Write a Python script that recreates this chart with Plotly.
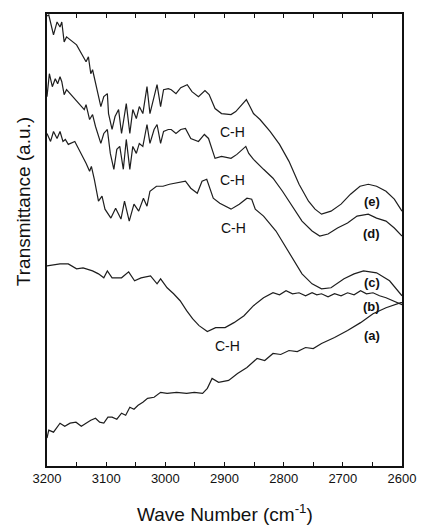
import plotly.graph_objects as go

# Wavenumbers (cm^-1) and transmittance (a.u.) for each spectrum
e_wn = [3200,3197,3189,3183,3178,3175,3171,3167,3150,3139,3134,3130,3126,3123,3118,3112,3109,3104,3098,3096,
        3090,3085,3079,3074,3066,3060,3055,3049,3044,3038,3031,3026,3019,3014,3008,3003,2995,2990,2982,2974,
        2963,2955,2944,2933,2926,2916,2905,2889,2881,2870,2863,2857,2851,2840,2823,2807,2791,2774,2758,2747,
        2736,2720,2703,2687,2671,2657,2643,2627,2613,2600]
e_tr = [452,453,433,446,441,446,426,431,423,411,406,411,394,398,384,368,361,371,374,354,
        338,351,358,334,364,334,358,349,361,354,381,354,371,383,361,378,379,378,374,380,
        383,376,371,377,373,359,354,353,356,363,368,361,354,348,336,323,306,283,266,258,
        253,256,263,273,281,283,281,276,268,256]

d_wn = [3200,3196,3191,3186,3182,3178,3175,3171,3167,3156,3145,3137,3134,3128,3123,3118,3109,3104,3098,3093,
        3087,3082,3077,3071,3066,3060,3055,3049,3044,3038,3031,3026,3019,3014,3008,3003,2995,2990,2982,2974,
        2966,2957,2944,2934,2927,2916,2905,2889,2879,2870,2864,2859,2851,2834,2818,2802,2785,2769,2752,2739,
        2725,2709,2692,2676,2657,2643,2627,2613,2600]
d_tr = [371,394,381,389,384,391,386,373,378,371,364,358,363,348,353,341,324,334,338,314,
        298,318,321,298,328,298,321,314,324,321,343,324,338,343,324,336,338,338,334,338,
        339,329,326,333,329,309,311,309,313,318,321,314,308,298,289,276,261,246,236,231,
        233,239,244,251,253,249,246,239,231]

c_wn = [3200,3194,3189,3183,3178,3173,3169,3164,3153,3142,3134,3128,3125,3120,3113,3107,3102,3092,3084,3075,
        3069,3061,3053,3045,3037,3031,3026,3015,3004,2993,2982,2966,2957,2946,2938,2930,2919,2908,2889,2875,
        2862,2854,2848,2834,2813,2796,2782,2769,2752,2736,2720,2698,2681,2665,2643,2621,2600]
c_tr = [334,326,336,329,336,326,328,323,326,314,304,296,301,288,266,271,258,249,259,248,
        266,246,263,256,269,261,276,281,281,283,284,286,279,274,286,288,269,264,258,263,
        269,268,258,251,236,219,206,193,183,178,179,188,193,196,194,186,171]

b_wn = [3200,3192,3178,3164,3150,3139,3123,3113,3104,3098,3090,3074,3062,3052,3041,3025,3014,3008,2997,2986,
        2975,2964,2954,2943,2929,2915,2899,2884,2867,2851,2834,2818,2807,2796,2785,2774,2763,2752,2744,2736,
        2725,2714,2703,2692,2681,2670,2660,2649,2638,2627,2602,2600]
b_tr = [201,202,203,203,198,199,196,193,189,196,189,189,195,186,189,191,183,188,179,173,
        166,156,148,141,135,139,139,144,151,161,169,174,172,176,173,174,171,174,172,173,
        170,173,171,174,172,176,173,174,171,169,163,162]

a_wn = [3200,3197,3189,3178,3170,3161,3151,3142,3134,3126,3118,3111,3104,3097,3090,3082,3074,3067,3060,3053,
        3046,3038,3030,3019,3008,2997,2981,2964,2951,2937,2929,2921,2910,2893,2878,2862,2845,2832,2818,2805,
        2791,2777,2763,2750,2736,2714,2692,2670,2649,2627,2602,2600]
a_tr = [28,36,34,43,40,43,44,40,43,46,48,44,43,49,49,47,53,51,59,57,
        61,64,68,69,74,73,74,73,74,73,78,88,84,86,93,99,108,106,113,112,
        116,115,119,118,123,129,136,144,153,159,164,164]

spectra = [("a", a_wn, a_tr), ("b", b_wn, b_tr), ("c", c_wn, c_tr), ("d", d_wn, d_tr), ("e", e_wn, e_tr)]

curve_labels = ["(e)", "(d)", "(c)", "(b)", "(a)"]
curve_label_x = [2651, 2651, 2651, 2651, 2651]
curve_label_y = [266, 234, 184, 160, 131]

ch_text = ["C-H", "C-H", "C-H", "C-H"]
ch_x = [2886, 2886, 2885, 2895]
ch_y = [335, 287, 239, 121]

x_ticks = [3200, 3100, 3000, 2900, 2800, 2700, 2600]

fig = go.Figure()
for name, wn, tr in spectra:
    fig.add_trace(go.Scatter(x=wn, y=tr, mode="lines", name=name,
                             line=dict(color="#1e1e1e", width=1.2), showlegend=False,
                             hoverinfo="skip"))

for t, x, y in zip(curve_labels, curve_label_x, curve_label_y):
    fig.add_annotation(x=x, y=y, text="<b>" + t + "</b>", showarrow=False,
                       font=dict(family="Liberation Sans, Arial", size=13, color="#111"))
for t, x, y in zip(ch_text, ch_x, ch_y):
    fig.add_annotation(x=x, y=y, text=t, showarrow=False,
                       font=dict(family="Liberation Sans, Arial", size=14, color="#111"))

fig.add_annotation(xref="paper", yref="paper", x=0.5, y=-0.105, text="Wave Number (cm<sup>-1</sup>)",
                   showarrow=False, yanchor="middle",
                   font=dict(family="Liberation Sans, Arial", size=19, color="#111"))
fig.add_annotation(xref="paper", yref="paper", x=-0.066, y=0.585, text="Transmittance (a.u.)",
                   showarrow=False, textangle=-90, xanchor="center", yanchor="middle",
                   font=dict(family="Liberation Sans, Arial", size=19, color="#111"))

fig.update_layout(
    width=428, height=530,
    margin=dict(l=47, r=15, t=12, b=64),
    paper_bgcolor="white", plot_bgcolor="white",
    xaxis=dict(range=[3200, 2600], tickvals=x_ticks, ticks="inside", ticklen=4, tickwidth=1.2,
               tickcolor="#111", showgrid=False, zeroline=False, showline=True, linecolor="#111",
               linewidth=1.6, mirror="ticks",
               minor=dict(dtick=50, tick0=2600, ticks="inside", ticklen=4, tickcolor="#111", showgrid=False),
               tickfont=dict(family="Liberation Sans, Arial", size=13, color="#111")),
    yaxis=dict(range=[0, 454], showticklabels=False, ticks="", showgrid=False, zeroline=False,
               showline=True, linecolor="#111", linewidth=1.6, mirror=True),
)

fig.write_html("out.html")
